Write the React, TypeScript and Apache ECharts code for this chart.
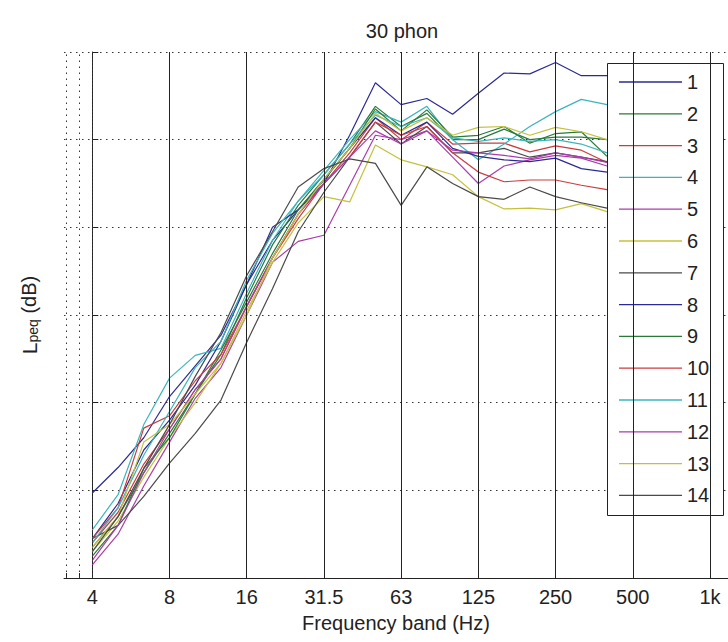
import React, { useEffect, useRef } from 'react';
import * as echarts from 'echarts';

// 1/3-octave band centre frequencies (x positions are band indices, 4 Hz = 0)
const bands = ['4', '5', '6.3', '8', '10', '12.5', '16', '20', '25', '31.5', '40', '50', '63', '80', '100', '125', '160', '200', '250', '315', '400'];
const tickLabels = ['4', '8', '16', '31.5', '63', '125', '250', '500', '1k'];
const tickBandIndex = [0, 3, 6, 9, 12, 15, 18, 21, 24];
const minorBandIndex = [-1, -0.5];

const seriesNames = ['1', '2', '3', '4', '5', '6', '7', '8', '9', '10', '11', '12', '13', '14'];

const s1 = [9.7, 12.6, 16.0, 20.7, 24.2, 27.7, 33.5, 38.5, 42.0, 45.0, 50.5, 56.5, 54.0, 54.7, 52.9, 55.3, 57.6, 57.5, 58.8, 57.3, 57.3];
const s2 = [3.5, 7.0, 12.0, 16.5, 21.0, 25.5, 32.0, 38.0, 42.5, 46.0, 49.5, 53.8, 51.5, 53.0, 50.0, 50.0, 51.2, 50.0, 50.3, 50.3, 50.0];
const s3 = [4.0, 7.5, 13.0, 17.0, 21.5, 25.0, 31.0, 36.5, 41.5, 45.0, 48.5, 52.5, 50.0, 52.0, 49.5, 49.6, 49.6, 48.6, 49.3, 48.8, 47.4];
const s4 = [5.5, 9.5, 17.5, 22.8, 25.4, 26.2, 32.5, 38.5, 43.0, 46.5, 50.0, 53.2, 52.0, 53.8, 50.0, 47.7, 49.5, 51.5, 53.2, 54.6, 54.0];
const s5 = [1.5, 5.0, 10.5, 15.5, 20.5, 24.0, 30.0, 36.0, 38.4, 39.1, 44.8, 50.5, 50.0, 51.0, 48.0, 45.0, 47.0, 47.7, 48.2, 47.9, 47.0];
const s6 = [3.0, 6.5, 11.5, 16.0, 20.0, 24.5, 30.5, 36.0, 40.5, 43.5, 42.9, 49.4, 47.7, 46.9, 46.0, 43.5, 42.1, 42.2, 42.0, 42.7, 41.8];
const s7 = [4.5, 6.0, 9.3, 13.1, 16.5, 20.3, 26.9, 33.0, 39.5, 44.0, 48.0, 52.0, 49.5, 51.5, 48.5, 48.5, 49.0, 48.0, 48.5, 48.0, 47.5];
const s8 = [4.5, 8.5, 14.6, 18.0, 22.0, 27.0, 33.5, 40.0, 42.0, 45.4, 49.0, 52.5, 50.5, 52.0, 49.0, 48.1, 47.7, 47.5, 47.9, 46.7, 46.3];
const s9 = [2.5, 6.0, 12.5, 16.0, 21.0, 26.0, 31.5, 37.0, 42.0, 45.5, 49.0, 53.5, 51.0, 53.4, 50.3, 50.5, 51.5, 49.6, 50.7, 50.9, 48.1];
const s10 = [4.5, 8.0, 17.1, 18.5, 22.5, 25.5, 31.0, 36.5, 41.0, 45.0, 48.0, 52.0, 50.5, 51.5, 48.5, 46.3, 45.2, 45.4, 45.4, 44.8, 44.3];
const s11 = [4.0, 8.0, 14.0, 19.0, 24.0, 27.0, 34.0, 39.3, 43.0, 46.0, 49.5, 52.8, 51.5, 52.5, 50.2, 49.8, 50.2, 49.8, 50.0, 49.5, 48.5];
const s12 = [2.0, 6.0, 12.0, 17.0, 21.5, 25.0, 31.0, 36.5, 41.5, 45.0, 48.0, 51.0, 49.5, 51.0, 48.8, 48.5, 48.2, 47.8, 48.5, 48.0, 47.4];
const s13 = [3.5, 7.0, 15.5, 17.5, 21.0, 24.5, 30.0, 36.5, 41.5, 45.5, 49.0, 53.0, 51.0, 52.5, 50.5, 51.4, 51.5, 50.5, 51.4, 50.9, 50.0];
const s14 = [3.0, 7.0, 12.5, 17.5, 23.0, 28.0, 34.5, 39.5, 44.6, 46.7, 47.8, 47.3, 42.5, 46.9, 45.0, 43.5, 43.2, 44.6, 43.5, 42.8, 42.2];

const seriesValues = [s1, s2, s3, s4, s5, s6, s7, s8, s9, s10, s11, s12, s13, s14];

const baseColors = ['#2b2b95', '#2a7a3a', '#cc3c3c', '#3cb4bc', '#aa3caa', '#c4c03c', '#4a4a4a'];
const colors = [...baseColors, ...baseColors];

const FONT = '"Liberation Sans", Arial, Helvetica, sans-serif';
const INK = '#222';

export default function App() {
  const ref = useRef<HTMLDivElement>(null);

  useEffect(() => {
    if (!ref.current) return;
    const chart = echarts.init(ref.current, undefined, { renderer: 'svg' });

    const lineSeries = seriesValues.map((vals, k) => ({
      name: seriesNames[k],
      type: 'line',
      data: vals.map((v, i) => [i, v]),
      symbol: 'none',
      showSymbol: false,
      z: 2,
      lineStyle: { color: colors[k], width: 1.2 },
      itemStyle: { color: colors[k] },
      silent: true,
    }));

    const markData: any[] = [
      ...minorBandIndex.map((v) => ({ xAxis: v, lineStyle: { type: [1.5, 4.5], color: '#333', width: 1 } })),
      { xAxis: tickBandIndex[0], lineStyle: { type: [1.5, 2], color: '#333', width: 1 } },
      ...tickBandIndex.slice(1).map((v) => ({ xAxis: v, lineStyle: { type: 'solid', color: INK, width: 1 } })),
    ];

    const option: any = {
      animation: false,
      backgroundColor: '#fff',
      textStyle: { fontFamily: FONT },
      graphic: [
        {
          type: 'text',
          x: 402,
          y: 31,
          style: {
            text: '30 phon',
            fill: INK,
            font: `20px ${FONT}`,
            textAlign: 'center',
            textVerticalAlign: 'middle',
          },
        },
        {
          type: 'rect',
          z: 3,
          silent: true,
          shape: { x: 607.5, y: 63.5, width: 116, height: 452 },
          style: { fill: '#fff', stroke: INK, lineWidth: 1 },
        },
      ],
      grid: { left: 64, right: 0, top: 52, bottom: 64 },
      xAxis: {
        type: 'value',
        min: -1.1,
        max: 24.7,
        axisLine: { show: true, lineStyle: { color: INK, width: 1 } },
        axisTick: {
          show: true,
          inside: true,
          length: 5,
          customValues: [...minorBandIndex, tickBandIndex[0]],
          lineStyle: { color: INK },
        },
        axisLabel: {
          show: true,
          customValues: tickBandIndex,
          formatter: (v: number) => {
            const idx = tickBandIndex.indexOf(Math.round(v));
            return idx >= 0 ? tickLabels[idx] : '';
          },
          fontSize: 20,
          color: INK,
          margin: 9,
          fontFamily: FONT,
        },
        splitLine: { show: false },
        name: 'Frequency band (Hz)',
        nameLocation: 'middle',
        nameGap: 35,
        nameTextStyle: { fontSize: 20, color: INK, fontFamily: FONT },
      },
      yAxis: {
        type: 'value',
        min: 0,
        max: 60,
        interval: 10,
        axisLine: { show: true, lineStyle: { color: INK, width: 1 } },
        axisTick: { show: true, inside: true, length: 6, lineStyle: { color: INK } },
        axisLabel: { show: false },
        splitLine: { show: true, lineStyle: { color: '#333', type: [1.5, 4.5], width: 1 } },
        name: '{L|L}{s|peq}{n| (dB)}',
        nameLocation: 'middle',
        nameRotate: 90,
        nameGap: 24,
        nameTextStyle: {
          color: INK,
          fontFamily: FONT,
          rich: {
            L: { fontSize: 21, lineHeight: 21, verticalAlign: 'top', fontFamily: FONT, color: INK },
            s: { fontSize: 14, lineHeight: 14, padding: [12, 0, 0, 0], verticalAlign: 'bottom', fontFamily: FONT, color: INK },
            n: { fontSize: 20, lineHeight: 21, verticalAlign: 'top', fontFamily: FONT, color: INK },
          },
        },
      },
      legend: {
        show: true,
        z: 4,
        data: seriesNames,
        orient: 'vertical',
        left: 607,
        top: 63,
        padding: [9, 0, 9, 12],
        icon: 'rect',
        itemWidth: 63,
        itemHeight: 1.3,
        itemGap: 11.8,
        backgroundColor: 'transparent',
        borderWidth: 0,
        selectedMode: false,
        textStyle: { fontSize: 20, lineHeight: 20, height: 20, color: INK, fontFamily: FONT },
      },
      series: [
        {
          name: 'grid-lines',
          type: 'line',
          data: [],
          z: 1,
          silent: true,
          markLine: {
            silent: true,
            symbol: ['none', 'none'],
            label: { show: false },
            emphasis: { disabled: true },
            animation: false,
            data: markData,
          },
        },
        ...lineSeries,
      ],
    };

    chart.setOption(option);
    return () => chart.dispose();
  }, []);

  return (
    <div
      ref={ref}
      style={{ position: 'fixed', left: 0, top: 0, width: 728, height: 642, background: '#fff' }}
    />
  );
}
